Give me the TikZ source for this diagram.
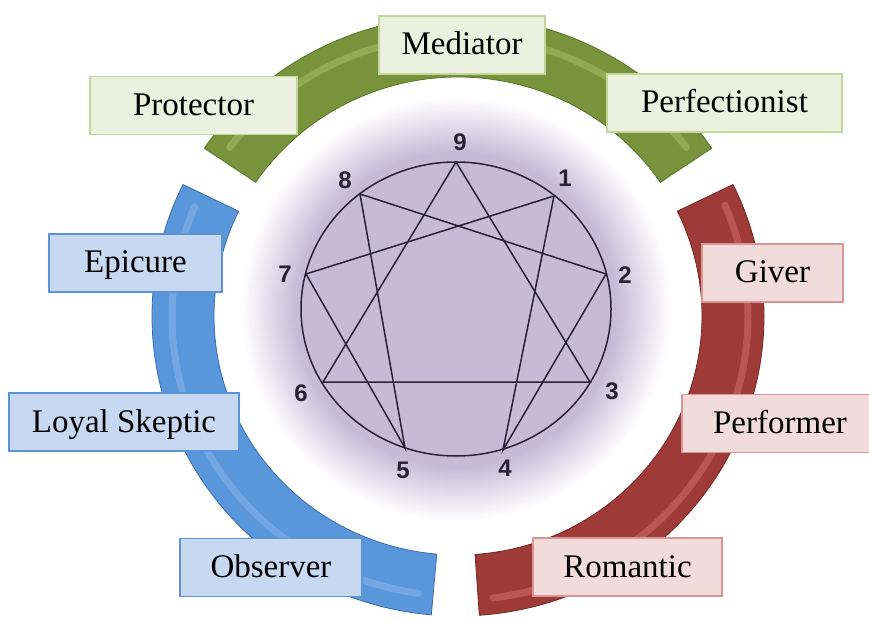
\documentclass[tikz,border=0pt]{standalone}
\usepackage{fontspec}
\setmainfont{Liberation Serif}
\newfontfamily\digitfont{Liberation Sans}
\usepackage{xcolor}
\usepackage{tikz}
\usetikzlibrary{positioning,calc}
\definecolor{grnband}{HTML}{77933C}
\definecolor{grnlight}{HTML}{A3BF66}
\definecolor{grndark}{HTML}{5A7428}
\definecolor{grnfill}{HTML}{EBF1DE}
\definecolor{grnline}{HTML}{C3D69B}
\definecolor{bluband}{HTML}{5A96DA}
\definecolor{blulight}{HTML}{86B6EC}
\definecolor{bludark}{HTML}{3A6DAE}
\definecolor{blufill}{HTML}{C6D9F1}
\definecolor{bluline}{HTML}{5B93D6}
\definecolor{redband}{HTML}{9E3B38}
\definecolor{redlight}{HTML}{D66D6A}
\definecolor{reddark}{HTML}{742725}
\definecolor{redfill}{HTML}{F2DCDB}
\definecolor{redline}{HTML}{D99694}
\definecolor{glowpurple}{HTML}{C8B9D7}
\definecolor{inkline}{HTML}{2A1F33}
\pgfdeclareradialshading{glow}{\pgfpoint{0bp}{0bp}}{color(0bp)=(glowpurple); color(18.5bp)=(glowpurple); color(25bp)=(white); color(50bp)=(white)}
\tikzstyle{typebox} = [rectangle, line width=1.5pt, minimum height=58pt, text height=24pt, text depth=4pt, font=\fontsize{33}{36}\selectfont]
\tikzstyle{grnbox} = [typebox, draw=grnline, fill=grnfill]
\tikzstyle{blubox} = [typebox, draw=bluline, fill=blufill]
\tikzstyle{redbox} = [typebox, draw=redline, fill=redfill]
\tikzstyle{ennea} = [draw=inkline, line width=1.5pt]
\tikzstyle{digit} = [text=inkline, font=\digitfont\bfseries\fontsize{24}{24}\selectfont]
\tikzstyle{shine} = [line width=7pt, line cap=round, opacity=0.55]

\begin{document}
\begin{tikzpicture}[x=1pt, y=1pt]
    \useasboundingbox (0,0) rectangle (869,619);
    \coordinate (ctr) at (458,303);
    \coordinate (ectr) at (456,310);

    % Glow
    \shade[shading=glow] (ectr) ellipse [x radius=215, y radius=212];

    % Bands
    \fill[grnband, draw=grndark, line width=0.8pt] ($(ctr)+(34:306 and 300)$) arc[start angle=34, end angle=146, x radius=306, y radius=300]
        -- ($(ctr)+(146:244 and 239)$) arc[start angle=146, end angle=34, x radius=244, y radius=239] -- cycle;
    \draw[shine, grnlight] ($(ctr)+(37:286 and 280)$) arc[start angle=37, end angle=143, x radius=286, y radius=280];
    \fill[bluband, draw=bludark, line width=0.8pt] ($(ctr)+(154:306 and 300)$) arc[start angle=154, end angle=265, x radius=306, y radius=300]
        -- ($(ctr)+(265:244 and 239)$) arc[start angle=265, end angle=154, x radius=244, y radius=239] -- cycle;
    \draw[shine, blulight] ($(ctr)+(157:286 and 280)$) arc[start angle=157, end angle=262, x radius=286, y radius=280];
    \fill[redband, draw=reddark, line width=0.8pt] ($(ctr)+(-86:306 and 300)$) arc[start angle=-86, end angle=26, x radius=306, y radius=300]
        -- ($(ctr)+(26:244 and 239)$) arc[start angle=26, end angle=-86, x radius=244, y radius=239] -- cycle;
    \draw[shine, redlight] ($(ctr)+(-83:290 and 284)$) arc[start angle=-83, end angle=23, x radius=290, y radius=284];

    % Enneagram
    \draw[ennea] (ectr) ellipse [x radius=155, y radius=147];
    \coordinate (p9) at (456,457);
    \coordinate (p1) at (554,423);
    \coordinate (p2) at (606,345);
    \coordinate (p3) at (590,237);
    \coordinate (p4) at (503,169);
    \coordinate (p5) at (405,171);
    \coordinate (p6) at (323,237);
    \coordinate (p7) at (306,345);
    \coordinate (p8) at (360,425);
    \draw[ennea, line join=miter] (p9) -- (p3) -- (p6) -- cycle;
    \draw[ennea, line join=miter] (p1) -- (p4) -- (p2) -- (p8) -- (p5) -- (p7) -- cycle;

    % Numbers
    \node[digit] (n9) at (460,477) {9};
    \node[digit] (n1) at (565,441) {1};
    \node[digit] (n2) at (625,344) {2};
    \node[digit] (n3) at (612,228) {3};
    \node[digit] (n4) at (505,151) {4};
    \node[digit] (n5) at (403,149) {5};
    \node[digit] (n6) at (301,226) {6};
    \node[digit] (n7) at (285,345) {7};
    \node[digit] (n8) at (345,439) {8};

    % Types
    \node[grnbox, minimum width=166pt] (mediator) at (462,574) {Mediator};
    \node[grnbox, minimum width=207pt] (protector) at (193.5,513.5) {Protector};
    \node[grnbox, minimum width=235pt] (perfectionist) at (724.5,516) {Perfectionist};
    \node[blubox, minimum width=173pt] (epicure) at (135.5,356) {Epicure};
    \node[blubox, minimum width=230pt] (skeptic) at (124,197) {Loyal Skeptic};
    \node[blubox, minimum width=182pt] (observer) at (271,51.5) {Observer};
    \node[redbox, minimum width=141pt] (giver) at (772.5,346) {Giver};
    \node[redbox, minimum width=196pt] (performer) at (780,195.5) {Performer};
    \node[redbox, minimum width=189pt] (romantic) at (627.5,52) {Romantic};
\end{tikzpicture}
\end{document}
